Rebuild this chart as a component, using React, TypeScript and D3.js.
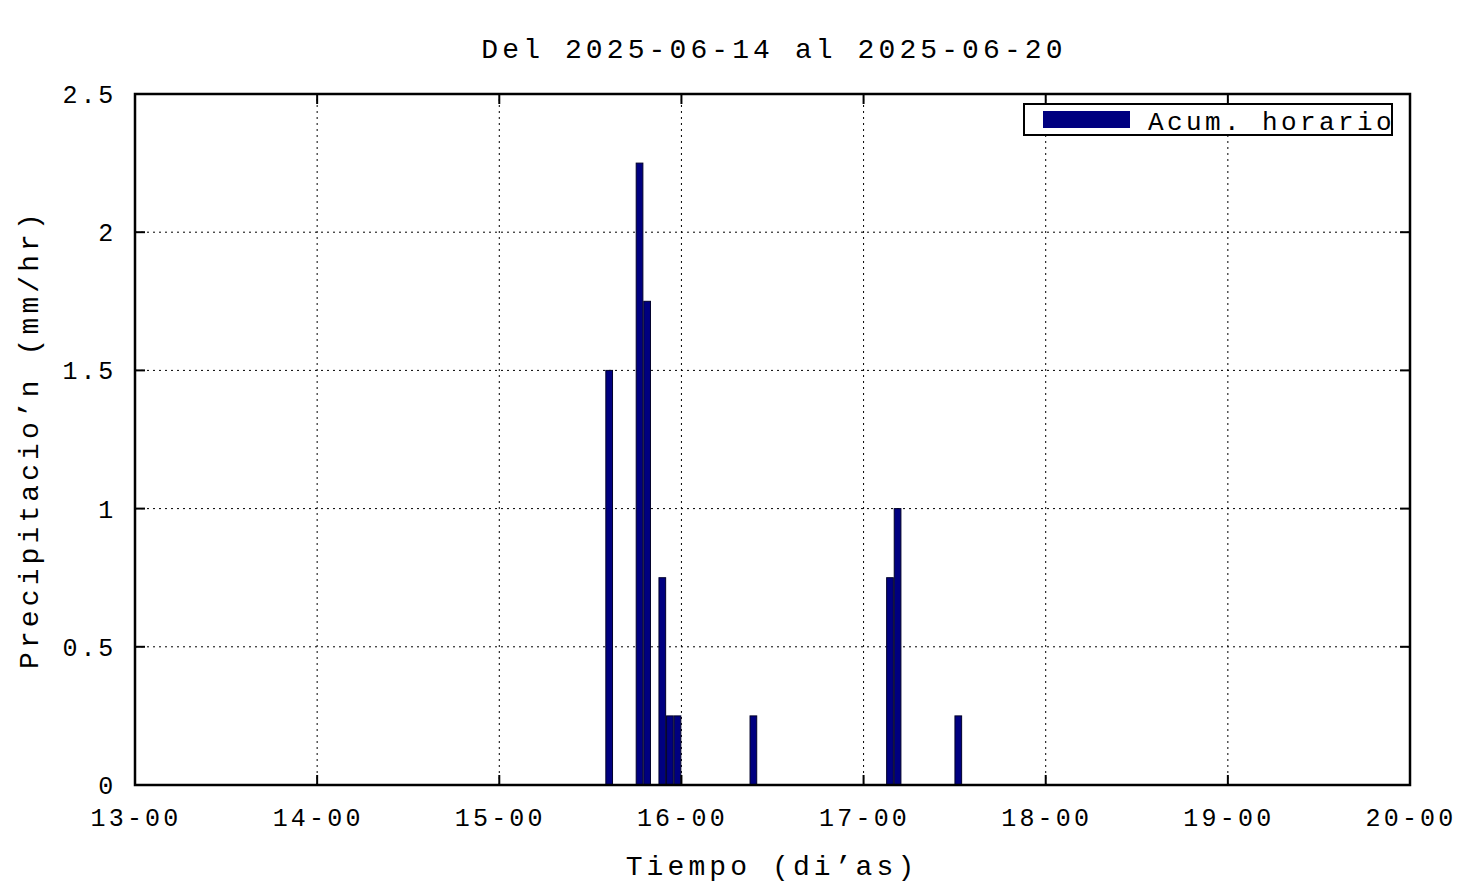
import React, { useEffect, useRef } from 'react';
import * as d3 from 'd3';

const titleText = 'Del 2025-06-14 al 2025-06-20';
const xLabel = 'Tiempo (di\u2019as)';
const yLabel = 'Precipitacio\u2019n (mm/hr)';
const legendLabel = 'Acum. horario';

const xDomain = ['2025-06-13 00:00', '2025-06-20 00:00'];
const yTicks = [0, 0.5, 1, 1.5, 2, 2.5];

// hourly rain totals (mm/hr), hour start
const rainTimes = [
    '2025-06-15 14:00', '2025-06-15 18:00', '2025-06-15 19:00', '2025-06-15 21:00',
    '2025-06-15 22:00', '2025-06-15 23:00', '2025-06-16 09:00', '2025-06-17 03:00',
    '2025-06-17 04:00', '2025-06-17 12:00'
];
const rainValues = [1.5, 2.25, 1.75, 0.75, 0.25, 0.25, 0.25, 0.75, 1.0, 0.25];

const W = 1476, H = 885;
const margins = {top: 94, right: 66, bottom: 100, left: 135};
const monoFont = "'Liberation Mono', 'DejaVu Sans Mono', monospace";

const parse = d3.utcParse('%Y-%m-%d %H:%M');

export default function App() {
    const ref = useRef<SVGGElement>(null);

    useEffect(() => {
        const g = d3.select(ref.current);
        g.selectAll('*').remove();

        const x0 = margins.left, x1 = W - margins.right;
        const y0 = H - margins.bottom, y1 = margins.top;

        const xScale = d3.scaleUtc()
            .domain(xDomain.map(d => parse(d) as Date))
            .range([x0, x1]);
        const yScale = d3.scaleLinear().domain([0, 2.5]).range([y0, y1]);
        const dayTicks = d3.utcDay.range(xScale.domain()[0], d3.utcDay.offset(xScale.domain()[1], 1));
        const fmt = d3.utcFormat('%d-%H');

        // grid
        g.selectAll('line.vgrid')
            .data(dayTicks.slice(1, -1))
            .enter().append('line')
            .attr('x1', d => xScale(d)).attr('x2', d => xScale(d))
            .attr('y1', y0).attr('y2', y1)
            .attr('stroke', '#000').attr('stroke-width', 1)
            .attr('stroke-dasharray', '2,4');
        g.selectAll('line.hgrid')
            .data(yTicks.slice(1, -1))
            .enter().append('line')
            .attr('x1', x0).attr('x2', x1)
            .attr('y1', d => yScale(d)).attr('y2', d => yScale(d))
            .attr('stroke', '#000').attr('stroke-width', 1)
            .attr('stroke-dasharray', '2,4');

        // bars
        const bars = rainTimes.map((t, i) => ({t: parse(t) as Date, v: rainValues[i]}));
        g.selectAll('rect.bar')
            .data(bars)
            .enter().append('rect')
            .attr('x', d => xScale(d.t) + 0.3)
            .attr('width', d => xScale(d3.utcHour.offset(d.t, 1)) - xScale(d.t) - 0.9)
            .attr('y', d => yScale(d.v))
            .attr('height', d => y0 - yScale(d.v))
            .attr('fill', '#000080')
            .attr('stroke', '#00002a')
            .attr('stroke-width', 1);

        // ticks (inward, both sides)
        const tickLen = 10;
        dayTicks.forEach(d => {
            const x = xScale(d);
            g.append('line').attr('x1', x).attr('x2', x).attr('y1', y0).attr('y2', y0 - tickLen)
                .attr('stroke', '#000').attr('stroke-width', 2);
            g.append('line').attr('x1', x).attr('x2', x).attr('y1', y1).attr('y2', y1 + tickLen)
                .attr('stroke', '#000').attr('stroke-width', 2);
            g.append('text')
                .attr('x', x + 1).attr('y', y0 + 41)
                .attr('text-anchor', 'middle')
                .style('font-family', monoFont).style('font-size', '25px')
                .style('letter-spacing', '3.2px')
                .text(fmt(d));
        });
        yTicks.forEach(v => {
            const y = yScale(v);
            g.append('line').attr('x1', x0).attr('x2', x0 + tickLen).attr('y1', y).attr('y2', y)
                .attr('stroke', '#000').attr('stroke-width', 2);
            g.append('line').attr('x1', x1).attr('x2', x1 - tickLen).attr('y1', y).attr('y2', y)
                .attr('stroke', '#000').attr('stroke-width', 2);
            g.append('text')
                .attr('x', x0 - 19).attr('y', y + 9)
                .attr('text-anchor', 'end')
                .style('font-family', monoFont).style('font-size', '25px')
                .style('letter-spacing', '2.8px')
                .text(String(v));
        });

        // frame
        g.append('rect')
            .attr('x', x0).attr('y', y1)
            .attr('width', x1 - x0).attr('height', y0 - y1)
            .attr('fill', 'none').attr('stroke', '#000').attr('stroke-width', 2.5);

        // legend
        const lx = 1024, ly = 104;
        g.append('rect').attr('x', lx).attr('y', ly).attr('width', 368).attr('height', 31)
            .attr('fill', '#fff').attr('stroke', '#000').attr('stroke-width', 2);
        g.append('rect').attr('x', lx + 19).attr('y', ly + 7).attr('width', 87).attr('height', 17)
            .attr('fill', '#000080');
        g.append('text')
            .attr('x', 1148).attr('y', ly + 26)
            .style('font-family', monoFont).style('font-size', '26px')
            .style('letter-spacing', '3.4px')
            .text(legendLabel);

        // titles
        const big = (sel: any) => sel
            .style('font-family', monoFont).style('font-size', '28px')
            .style('letter-spacing', '4.1px');
        big(g.append('text')
            .attr('x', 774).attr('y', 58)
            .attr('text-anchor', 'middle'))
            .text(titleText);
        big(g.append('text')
            .attr('x', 772).attr('y', 875)
            .attr('text-anchor', 'middle'))
            .text(xLabel);
        big(g.append('text')
            .attr('transform', `translate(38, 439) rotate(-90)`)
            .attr('text-anchor', 'middle'))
            .text(yLabel);
    }, []);

    return (
        <svg width={W} height={H} style={{display: 'block', position: 'absolute', left: 0, top: 0, background: '#fff'}}>
            <g ref={ref} />
        </svg>
    );
}
